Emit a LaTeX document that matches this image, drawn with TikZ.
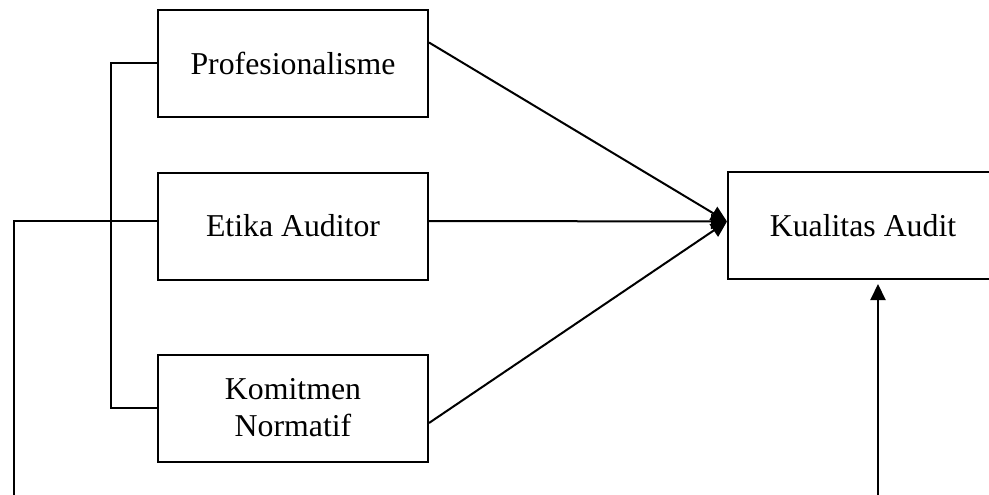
\documentclass[tikz,border=0pt]{standalone}
\usepackage{fontspec}
\setmainfont{Liberation Serif}
\usetikzlibrary{arrows.meta,calc}

\begin{document}
\begin{tikzpicture}[x=1pt,y=-1pt,
    every node/.style={font=\fontsize{31.8}{37}\selectfont},
    varbox/.style={draw,line width=2pt,minimum width=270pt,minimum height=107pt,
      align=center,inner sep=0pt},
    link/.style={line width=2pt},
    arr/.style={link,-{Triangle[length=16pt,width=15pt]}}]
    \useasboundingbox (0,0) rectangle (989,495);

    % variabel bebas
    \node[varbox] (prof) at (293,63.5) {Profesionalisme};
    \node[varbox] (etika) at (293,226) {Etika Auditor};
    \node[varbox] (kom) at (293,408) {Komitmen\\Normatif};

    % variabel terikat
    \node[varbox] (kual) at (863,225.5) {Kualitas Audit};

    \coordinate (leftend) at (14,495);
    \coordinate (bottomend) at (878,495);

    \draw[link] (prof.west) -- ++(-46,0) |- (kom.west);
    \draw[link] (leftend) |- ([yshift=5pt]etika.west);

    \draw[arr] ([yshift=21pt]prof.east) -- ([yshift=4pt]kual.west);
    \draw[arr] ([yshift=5pt]etika.east) -- ([yshift=4pt]kual.west);
    \draw[arr] ([yshift=-15pt]kom.east) -- ([yshift=4pt]kual.west);
    \draw[arr] (bottomend) -- ($(bottomend |- kual.south)+(0,4)$);
  \end{tikzpicture}
\end{document}
